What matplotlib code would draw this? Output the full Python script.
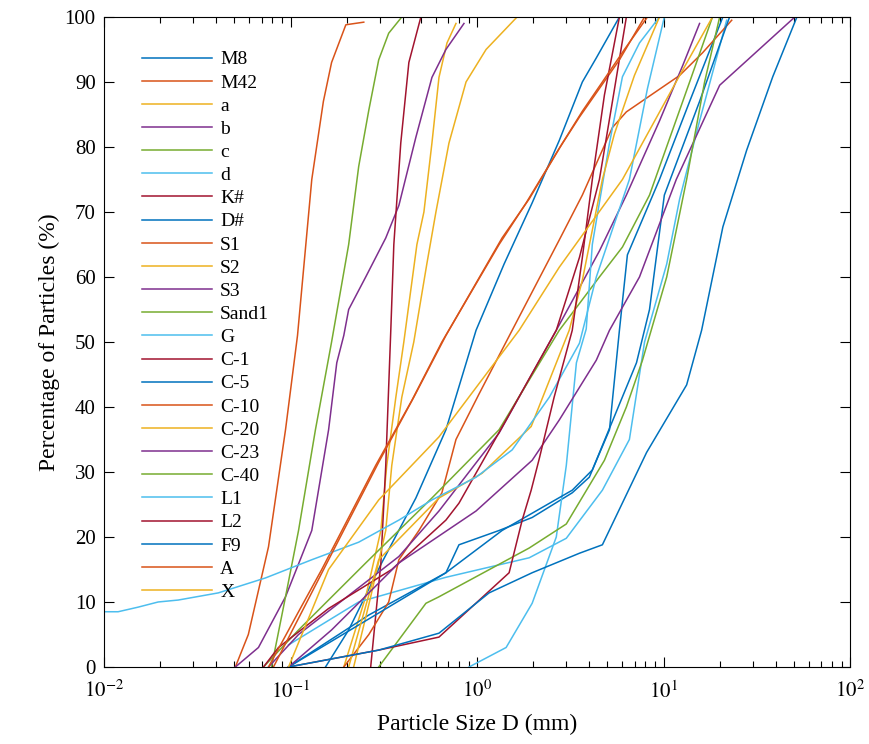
import matplotlib
matplotlib.use("Agg")
import matplotlib.pyplot as plt
from matplotlib.ticker import LogLocator, FixedLocator, NullFormatter

plt.rcParams['font.family'] = ['Liberation Serif', 'DejaVu Serif']
plt.rcParams['mathtext.fontset'] = 'stix'

# ---- data (particle size D in mm, cumulative percentage) ----
labels = ["M8", "M42", "a", "b", "c", "d", "K#", "D#", "S1", "S2", "S3", "Sand1",
          "G", "C-1", "C-5", "C-10", "C-20", "C-23", "C-40", "L1", "L2", "F9", "A", "X"]

d_M8 = [0.154, 0.205, 0.308, 0.470, 0.681, 0.988, 1.397, 1.975, 2.76, 3.67, 4.36, 5.80]
p_M8 = [0, 5.7, 16, 26, 36.5, 51.8, 62, 71.4, 81, 90, 93.7, 100]

d_M42 = [0.0506, 0.0594, 0.0762, 0.0940, 0.109, 0.130, 0.150, 0.166, 0.198, 0.247]
p_M42 = [0, 5, 18.5, 36.5, 51, 75, 87, 93, 98.8, 99.2]

d_a = [0.193, 0.253, 0.305, 0.328, 0.367, 0.405, 0.476, 0.519, 0.573, 0.625, 0.690, 0.771]
p_a = [0, 10.8, 21, 31, 41.5, 50, 65, 70, 80.6, 90.7, 96, 99]

d_b = [0.0506, 0.0673, 0.0940, 0.130, 0.160, 0.177, 0.193, 0.205, 0.253, 0.324, 0.381, 0.470, 0.573, 0.681, 0.851]
p_b = [0, 3, 10.8, 21, 36.5, 46.8, 51, 55, 60, 66, 71, 81.5, 90.7, 95, 99]

d_c = [0.0791, 0.0940, 0.1104, 0.136, 0.166, 0.205, 0.232, 0.263, 0.297, 0.336, 0.390]
p_c = [0, 10.8, 21, 36.5, 50, 65, 77, 85.7, 93.4, 97.5, 99.8]

d_d = [0.0976, 0.232, 0.681, 1.903, 3.01, 4.70, 6.56, 7.91, 10.4, 12.2, 15.6, 21.8]
p_d = [3.4, 10, 13.8, 16.8, 19.8, 27.2, 35, 50, 62, 72, 84, 99.5]

d_K = [0.269, 0.305, 0.324, 0.345, 0.358, 0.390, 0.431, 0.500]
p_K = [0, 16, 31, 52, 65, 80.6, 93, 100]

d_D = [0.0976, 0.263, 0.681, 0.800, 1.313, 1.975, 3.24, 4.00, 5.13, 5.80, 6.40, 9.51, 13.8, 20.8]
p_D = [0, 8, 14.5, 18.8, 21, 23, 26.8, 29.2, 36.5, 51.8, 63.4, 75, 87, 100]

d_S1 = [0.193, 0.263, 0.336, 0.381, 0.488, 0.648, 0.771, 1.025, 1.543, 2.76, 3.67, 5.32, 6.32, 12.19, 16.2, 23.2]
p_S1 = [0, 5, 10, 16.5, 21, 26.8, 35, 42, 51.8, 65.7, 72.6, 83, 85.4, 91, 94.5, 99.5]

d_S2 = [0.218, 0.269, 0.324, 0.349, 0.395, 0.458, 0.538, 0.602, 0.707, 0.873, 1.118, 1.64]
p_S2 = [0, 10.8, 21, 31, 41.5, 50, 62, 70, 80.6, 90, 95, 100]

d_S3 = [0.0762, 0.1104, 0.205, 0.381, 0.625, 1.313, 2.66, 4.53, 6.32, 9.51, 12.7, 15.6]
p_S3 = [0, 5, 11, 17, 24, 36, 51.8, 64, 72.6, 84, 92.6, 99]

d_Sand1 = [0.0716, 0.1104, 0.253, 0.573, 1.313, 2.76, 4.53, 6.02, 8.41, 13.8, 18.3]
p_Sand1 = [0, 5.7, 16, 26, 36.5, 51.8, 60, 64.6, 72.6, 90, 100]

d_G = [0.906, 1.432, 1.975, 2.66, 3.01, 3.41, 3.85, 4.15, 5.13, 6.02, 7.43, 9.51]
p_G = [0, 3, 9.8, 20, 31, 46.8, 52, 65, 80.6, 90.8, 96, 100]

d_C1 = [0.0716, 0.0862, 0.160, 0.349, 0.681, 0.800, 1.432, 2.66, 3.54, 4.53, 5.32, 6.32]
p_C1 = [0, 3, 9, 15, 22.6, 25.2, 38, 51.8, 63, 75, 87, 100]

d_C5 = [0.0976, 0.681, 1.362, 3.24, 4.15, 7.16, 8.41, 10.1, 15.6, 22.6]
p_C5 = [0, 14.5, 21, 27.2, 30.3, 46.8, 55, 72.6, 87, 100]

d_C10 = [0.0762, 0.1104, 0.147, 0.286, 0.447, 0.648, 1.313, 1.834, 2.76, 3.54, 4.53, 5.80, 7.91]
p_C10 = [0, 8.5, 15, 31, 41, 50, 65, 71.4, 79.8, 84.6, 89, 93.4, 100]

d_C20 = [0.205, 0.297, 0.625, 1.064, 1.951, 3.12, 3.67, 4.70, 5.45, 6.98, 9.51]
p_C20 = [0, 16.5, 26, 29.8, 37, 51.8, 59.5, 75, 82, 91, 100]

d_C23 = [0.0976, 0.166, 0.381, 0.988, 1.975, 2.76, 4.36, 5.13, 7.43, 11.7, 20.0, 50.6]
p_C23 = [0, 5.7, 16, 24, 31.8, 38, 47.2, 51.8, 60, 75, 89.5, 100]

d_C40 = [0.297, 0.532, 0.625, 1.903, 3.01, 4.82, 6.32, 7.71, 10.4, 13.3, 16.6, 20.0]
p_C40 = [0, 9.8, 10.8, 18.3, 22, 31.8, 40, 47.2, 60, 75, 90, 100]

d_L1 = [0.01, 0.0119, 0.0152, 0.0195, 0.0250, 0.0410, 0.0734, 0.130, 0.232, 0.381, 0.573,
        0.988, 1.543, 2.44, 3.54, 4.36, 6.56, 8.20, 10.1]
p_L1 = [8.5, 8.5, 9.2, 10, 10.3, 11.4, 13.7, 16.5, 19.2, 22.6, 25.7, 29.2, 33.4, 41.5,
        49.8, 60, 75, 89, 100]

d_L2 = [0.0976, 0.297, 0.625, 1.486, 1.746, 1.951, 2.154, 2.59, 3.24, 3.67, 4.15, 4.82, 5.80]
p_L2 = [0, 2.6, 4.6, 14.5, 22.6, 27.2, 32, 41.5, 51.8, 63, 75, 88, 100]

d_F9 = [0.0976, 0.297, 0.625, 1.160, 1.975, 3.54, 4.70, 8.11, 13.3, 16.0, 20.8, 27.9, 38.5, 51.9]
p_F9 = [0, 2.6, 5.2, 11.4, 14.5, 17.5, 18.8, 33, 43.4, 51.8, 67.7, 79.5, 90.8, 100]

d_A = [0.0810, 0.1175, 0.160, 0.297, 0.458, 0.681, 1.362, 1.903, 2.86, 3.67, 4.70, 6.17, 8.20]
p_A = [0, 9, 16.5, 31.5, 41.5, 51, 66, 72, 80.5, 85.5, 90, 95, 100]

d_X = [0.0976, 0.160, 0.297, 0.625, 1.682, 2.76, 6.02, 12.2, 18.3]
p_X = [0, 15, 25.7, 35.4, 51.8, 61.5, 75, 91, 100]

sizes = [d_M8, d_M42, d_a, d_b, d_c, d_d, d_K, d_D, d_S1, d_S2, d_S3, d_Sand1,
         d_G, d_C1, d_C5, d_C10, d_C20, d_C23, d_C40, d_L1, d_L2, d_F9, d_A, d_X]
percents = [p_M8, p_M42, p_a, p_b, p_c, p_d, p_K, p_D, p_S1, p_S2, p_S3, p_Sand1,
            p_G, p_C1, p_C5, p_C10, p_C20, p_C23, p_C40, p_L1, p_L2, p_F9, p_A, p_X]

matlab_colors = ['#0072BD', '#D95319', '#EDB120', '#7E2F8E', '#77AC30', '#4DBEEE', '#A2142F']

x_ticks = [1e-2, 1e-1, 1e0, 1e1, 1e2]
x_ticklabels = [r'$10^{-2}$', r'$10^{-1}$', r'$10^{0}$', r'$10^{1}$', r'$10^{2}$']
y_ticks = list(range(0, 101, 10))

fig = plt.figure(figsize=(8.69, 7.44), dpi=100)
ax = fig.add_axes([0.1197, 0.1035, 0.8585, 0.8737])

for i, (lab, dd, pp) in enumerate(zip(labels, sizes, percents)):
    ax.plot(dd, pp, color=matlab_colors[i % 7], lw=1.1, label=lab)

ax.set_xscale('log')
ax.set_xlim(1e-2, 1e2)
ax.set_ylim(0, 100)
ax.xaxis.set_major_locator(FixedLocator(x_ticks))
ax.set_xticklabels(x_ticklabels)
ax.xaxis.set_minor_locator(LogLocator(base=10, subs=range(2, 10)))
ax.xaxis.set_minor_formatter(NullFormatter())
ax.set_yticks(y_ticks)
ax.tick_params(which='both', direction='in', top=True, right=True, labelsize=15, width=0.8)
ax.tick_params(which='major', length=7)
ax.tick_params(which='minor', length=4)
ax.tick_params(axis='x', which='major', pad=10)
ax.tick_params(axis='y', which='major', pad=6)
for s in ax.spines.values():
    s.set_linewidth(0.8)

ax.set_xlabel('Particle Size D (mm)', fontsize=17, labelpad=8)
ax.set_ylabel('Percentage of Particles (%)', fontsize=17, labelpad=3)

leg = ax.legend(loc='upper left', bbox_to_anchor=(0.041, 0.96), frameon=False,
                fontsize=14, handlelength=3.6, labelspacing=0.285, handletextpad=0.4,
                borderaxespad=0.0)

fig.savefig('out.png', dpi=100)
